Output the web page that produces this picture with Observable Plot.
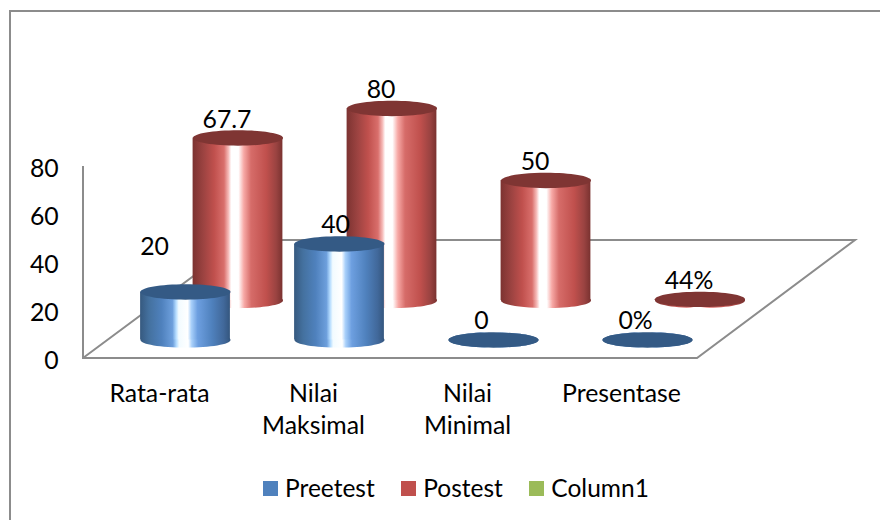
<!DOCTYPE html>
<html>
<head>
<meta charset="utf-8">
<script src="https://cdn.jsdelivr.net/npm/d3@7"></script>
<script src="https://cdn.jsdelivr.net/npm/@observablehq/plot@0.6"></script>
<style>
  html, body { margin: 0; padding: 0; background: #fff; }
  #chart { position: relative; width: 880px; height: 520px; overflow: hidden; font-family: Lato, sans-serif; color: #000; }
  #border { position: absolute; left: 9px; top: 10px; width: 900px; height: 600px; border-left: 2px solid #8c8c8c; border-top: 2px solid #8c8c8c; }
  #plot { position: absolute; left: 0; top: 0; }
  #legend { position: absolute; left: 263px; top: 472px; display: flex; align-items: center; font-size: 24.5px; line-height: 32px; white-space: nowrap; }
  #legend i { display: inline-block; width: 15px; height: 15px; margin-right: 7px; }
  #legend span { display: inline-flex; align-items: center; margin-right: 26.5px; }
</style>
</head>
<body>
<div id="chart"><div id="border"></div><div id="plot"></div><div id="legend"></div></div>
<script>
const categories = ["Rata-rata", "Nilai\nMaksimal", "Nilai\nMinimal", "Presentase"];
const preetestValues = [20, 40, 0, 0];
const preetestLabels = ["20", "40", "0", "0%"];
const postestValues = [67.7, 80, 50, 0.44];
const postestLabels = ["67.7", "80", "50", "44%"];
const yTicks = [0, 20, 40, 60, 80];
const legendNames = ["Preetest", "Postest", "Column1"];
const legendColors = ["#4f81bd", "#c0504d", "#9bbb59"];

const table = (values, labels) => categories.map((category, i) => ({category, value: values[i], label: labels[i]}));
const preetest = table(preetestValues, preetestLabels);
const postest = table(postestValues, postestLabels);

// Ellipse symbol for the cylinder caps and bases
const ellipse = {
  draw(ctx, size) {
    const rx = Math.sqrt(size / Math.PI), ry = rx * 0.17, k = 0.5523;
    ctx.moveTo(-rx, 0);
    ctx.bezierCurveTo(-rx, -ry * k, -rx * k, -ry, 0, -ry);
    ctx.bezierCurveTo(rx * k, -ry, rx, -ry * k, rx, 0);
    ctx.bezierCurveTo(rx, ry * k, rx * k, ry, 0, ry);
    ctx.bezierCurveTo(-rx * k, ry, -rx, ry * k, -rx, 0);
    ctx.closePath();
  }
};

const gradient = (id, stops) =>
  `<linearGradient id="${id}" x1="0" x2="1" y1="0" y2="0">` +
  stops.map(([o, c]) => `<stop offset="${o}" stop-color="${c}"/>`).join("") +
  `</linearGradient>`;

const defs = () => {
  const d = d3.create("svg:defs");
  d.html(
    gradient("bodyBlue", [[0, "#36597f"], [0.1, "#44719f"], [0.24, "#4f81bd"], [0.36, "#6d9fdc"], [0.4, "#b4dcff"], [0.43, "#f2fbff"], [0.53, "#ffffff"], [0.57, "#a9d0fa"], [0.64, "#6d9fe0"], [0.8, "#4f81bd"], [0.93, "#41689a"], [1, "#34567e"]]) +
    gradient("bodyRed", [[0, "#7c3331"], [0.12, "#9c4341"], [0.24, "#c0504d"], [0.35, "#d96f6c"], [0.4, "#f6bdbb"], [0.43, "#ffffff"], [0.51, "#ffffff"], [0.57, "#f7a9a6"], [0.65, "#d66c69"], [0.82, "#c0504d"], [0.93, "#9a4341"], [1, "#7a3230"]])
  );
  return d.node();
};

// Floor and left wall, anchored on the scales
const floorWidthLeft = 102, floorWidthRight = 50, depthX = 157, depthY = 118;
const floor = (index, {x, y}) => {
  const c0 = x(categories[0]) + x.bandwidth() / 2;
  const c3 = x(categories[3]) + x.bandwidth() / 2;
  const left = c0 - floorWidthLeft, right = c3 + floorWidthRight, base = y(0);
  const p = d3.path();
  p.moveTo(left, y(80)); p.lineTo(left, base); p.lineTo(right, base);
  p.lineTo(right + depthX + 1, base - depthY); p.lineTo(left + depthX + 2, base - depthY);
  p.lineTo(left, base);
  const g = d3.create("svg:path").attr("d", p.toString()).attr("fill", "none")
    .attr("stroke", "#8c8c8c").attr("stroke-width", 2).attr("stroke-linejoin", "miter");
  return g.node();
};

// Offsets of the two depth rows of cylinders on the floor
const frontDy = -18.5, backDx = 52.5, backDy = -58;
const barWidth = 90;
const plotStep = 154.2;

const cylinders = (data, id, capColor, dx, dy) => [
  Plot.dot(data, {x: "category", y: () => 0, r: barWidth / 2, symbol: ellipse, fill: `url(#${id})`, stroke: null, dx, dy}),
  Plot.barY(data, {x: "category", y: "value", insetLeft: (plotStep - barWidth) / 2, insetRight: (plotStep - barWidth) / 2, fill: `url(#${id})`, dx, dy}),
  Plot.dot(data, {x: "category", y: "value", r: barWidth / 2, symbol: ellipse, fill: capColor, stroke: null, dx, dy})
];

const labelStyle = {text: "label", fontSize: 24.8, fontFamily: "Lato, sans-serif", fill: "#000"};

const svg = Plot.plot({
  width: 880,
  height: 455,
  marginLeft: 107.65,
  marginRight: 155.55,
  marginTop: 166,
  marginBottom: 97,
  style: {background: "transparent", overflow: "visible", fontFamily: "Lato, sans-serif"},
  x: {type: "band", domain: categories, padding: 0, axis: null},
  y: {domain: [0, 80], axis: null},
  marks: [
    defs,
    floor,
    Plot.axisY({ticks: yTicks, tickSize: 0, tickPadding: 49.5, fontSize: 24.8, dy: 3, fill: "#000", label: null}),
    Plot.axisX({tickSize: 0, tickPadding: 21.5, fontSize: 24.8, lineHeight: 1.27, dx: -26, fill: "#000", label: null, textOverflow: null}),
    ...cylinders(postest, "bodyRed", "#7f3533", backDx, backDy),
    ...cylinders(preetest, "bodyBlue", "#345a85", 0, frontDy),
    Plot.text(postest, {x: "category", y: "value", dx: backDx - 11, dy: backDy - 18, ...labelStyle}),
    Plot.text(preetest.filter(d => d.value === 0), {x: "category", y: "value", dx: -12, dy: frontDy - 19, ...labelStyle}),
    Plot.text(preetest.filter(d => d.value === 40), {x: "category", y: "value", dx: -4, dy: frontDy - 19, ...labelStyle}),
    Plot.text(preetest.filter(d => d.value === 20), {x: "category", y: "value", dx: -31, dy: frontDy - 45, ...labelStyle})
  ]
});
document.getElementById("plot").append(svg);

const legend = d3.select("#legend");
legendNames.forEach((name, i) => {
  const s = legend.append("span");
  s.append("i").style("background", legendColors[i]);
  s.append("b").style("font-weight", "normal").text(name);
});
</script>
</body>
</html>
